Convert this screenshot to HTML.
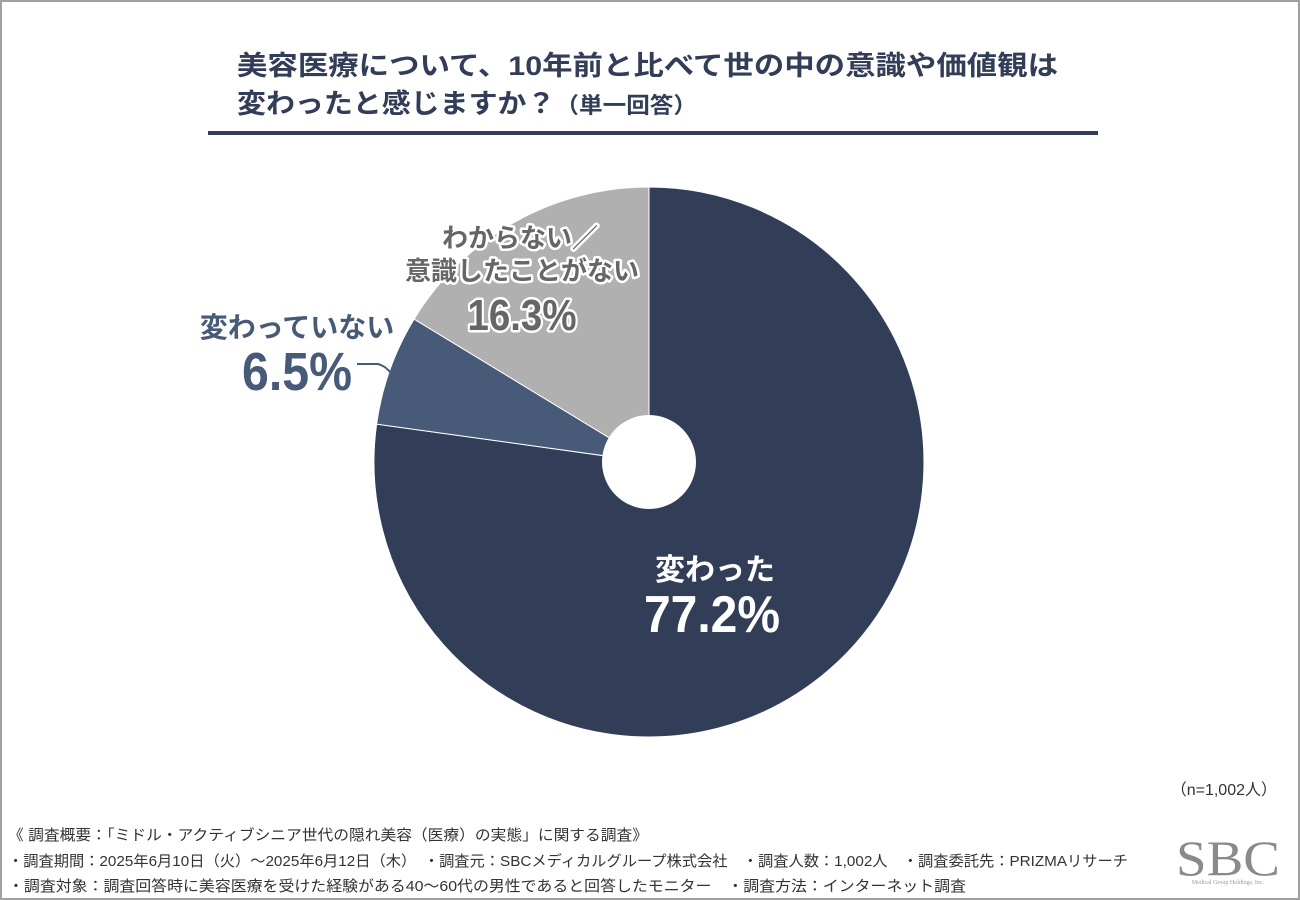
<!DOCTYPE html>
<html><head><meta charset="utf-8"><style>
html,body{margin:0;padding:0;background:#fff}
body{width:1300px;height:900px;position:relative;overflow:hidden;font-family:"Liberation Sans","Noto Sans CJK JP",sans-serif}
.frame{position:absolute;left:0;top:0;width:1296px;height:896px;border:2px solid #a0a0a0}
</style></head><body>
<div class="frame"></div>
<svg width="1300" height="900" style="position:absolute;left:0;top:0" font-family="Liberation Sans, Noto Sans CJK JP, sans-serif">
<text x="237" y="75" font-size="27" font-weight="bold" fill="#323e58" textLength="821" lengthAdjust="spacingAndGlyphs">美容医療について、10年前と比べて世の中の意識や価値観は</text>
<text x="237" y="113" font-size="27" font-weight="bold" fill="#323e58" textLength="460" lengthAdjust="spacingAndGlyphs">変わったと感じますか？<tspan font-size="22">（単一回答）</tspan></text>
<rect x="208" y="131" width="890" height="4" fill="#323e58"/>
<path d="M649,462 L649,187 A275,275 0 1 1 376.6,424.1 Z" fill="#323e58" stroke="#fff" stroke-width="1"/>
<path d="M649,462 L376.6,424.1 A275,275 0 0 1 414.1,319.1 Z" fill="#475a78" stroke="#fff" stroke-width="1"/>
<path d="M649,462 L414.1,319.1 A275,275 0 0 1 649,187 Z" fill="#b0b0b0" stroke="#fff" stroke-width="1"/>
<circle cx="649" cy="462" r="47" fill="#fff"/>
<g font-weight="bold" fill="#fff" text-anchor="middle">
<text x="715" y="580" font-size="30">変わった</text>
<text x="712" y="632" font-size="52" textLength="136" lengthAdjust="spacingAndGlyphs">77.2%</text>
</g>
<g font-weight="bold" fill="#666" stroke="#fff" stroke-width="5" paint-order="stroke" stroke-linejoin="round" text-anchor="middle">
<text x="520" y="247" font-size="26">わからない／</text>
<text x="522" y="280" font-size="26">意識したことがない</text>
<text x="522" y="330" font-size="44" textLength="109" lengthAdjust="spacingAndGlyphs">16.3%</text>
</g>
<g font-weight="bold" fill="#475a78" text-anchor="middle">
<text x="297" y="337" font-size="28">変わっていない</text>
<text x="297" y="390" font-size="54" textLength="110" lengthAdjust="spacingAndGlyphs">6.5%</text>
</g>
<path d="M357,364 L378,364 Q385,366 390,372" fill="none" stroke="#475a78" stroke-width="2"/>
<text x="1277" y="795" font-size="16" fill="#333" text-anchor="end">（n=1,002人）</text>
<g font-size="15" fill="#333">
<text x="8" y="840" textLength="640" lengthAdjust="spacingAndGlyphs">《 調査概要：「ミドル・アクティブシニア世代の隠れ美容（医療）の実態」に関する調査》</text>
<text x="8" y="866" textLength="1120" lengthAdjust="spacingAndGlyphs">・調査期間：2025年6月10日（火）～2025年6月12日（木）　・調査元：SBCメディカルグループ株式会社　・調査人数：1,002人　・調査委託先：PRIZMAリサーチ</text>
<text x="8" y="891" textLength="958" lengthAdjust="spacingAndGlyphs">・調査対象：調査回答時に美容医療を受けた経験がある40～60代の男性であると回答したモニター　・調査方法：インターネット調査</text>
</g>
<text x="1228" y="875" font-family="Liberation Serif, serif" font-size="50" fill="#8a8a8a" text-anchor="middle" textLength="104" lengthAdjust="spacingAndGlyphs">SBC</text>
<text x="1228" y="884" font-family="Liberation Serif, serif" font-size="6" fill="#999" text-anchor="middle">Medical Group Holdings, Inc.</text>
</svg>
</body></html>
